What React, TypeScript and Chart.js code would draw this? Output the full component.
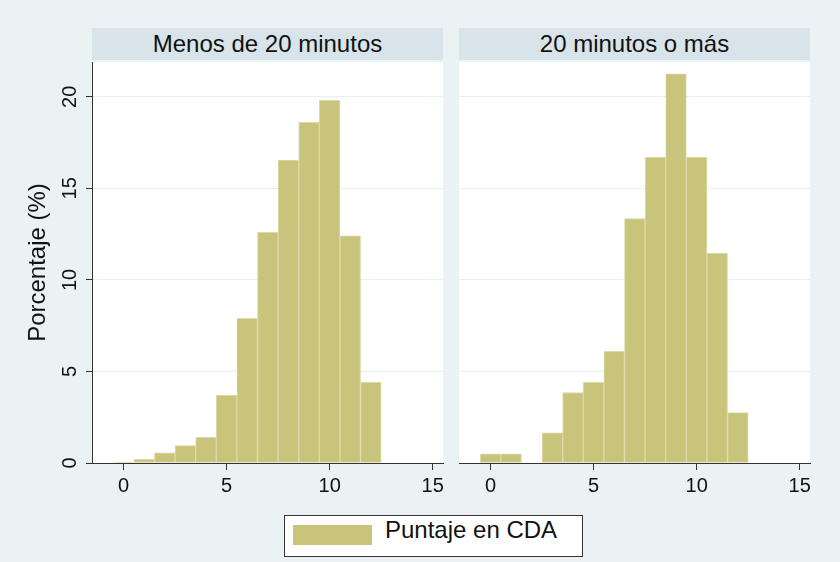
import React, { useEffect, useRef } from "react";
import { Chart, registerables } from "chart.js";

Chart.register(...registerables);

// ---- data ----
const panelTitles = ["Menos de 20 minutos", "20 minutos o más"];
const seriesLabel = "Puntaje en CDA";
const yAxisTitle = "Porcentaje (%)";

const leftBins = [0, 1, 2, 3, 4, 5, 6, 7, 8, 9, 10, 11, 12];
const leftValues = [0.05, 0.2, 0.55, 0.95, 1.4, 3.7, 7.9, 12.6, 16.55, 18.6, 19.8, 12.4, 4.4];

const rightBins = [0, 1, 3, 4, 5, 6, 7, 8, 9, 10, 11, 12];
const rightValues = [0.5, 0.5, 1.65, 3.85, 4.4, 6.1, 13.35, 16.7, 21.25, 16.7, 11.45, 2.75];

const xTicks = [0, 5, 10, 15];
const yTicks = [0, 5, 10, 15, 20];

// ---- styles ----
const FONT = '"Liberation Sans", Arial, Helvetica, sans-serif';
const BAR = "#c9c47b";
const BAR_EDGE = "#dedaa8";
const AXIS = "#333333";
const GRID = "#e8eff1";
const BG = "#eaf2f3";
const STRIP = "#d8e4e9";
const TEXT = "#111111";

const whiteArea = {
  id: "whiteArea",
  beforeDraw(chart: any) {
    const { ctx, chartArea: a } = chart;
    ctx.save();
    ctx.fillStyle = "#ffffff";
    ctx.fillRect(a.left, a.top, a.right - a.left, a.bottom - a.top);
    ctx.restore();
  },
};

function makeConfig(bins: number[], values: number[], showY: boolean): any {
  return {
    type: "bar",
    data: {
      datasets: [
        {
          label: seriesLabel,
          data: bins.map((b, i) => ({ x: b, y: values[i] })),
          backgroundColor: BAR,
          borderColor: BAR_EDGE,
          borderWidth: 1,
          barPercentage: 1,
          categoryPercentage: 1,
        },
      ],
    },
    options: {
      responsive: false,
      animation: false,
      devicePixelRatio: 1,
      layout: {
        padding: showY
          ? { top: 62, right: 7, left: 0, bottom: 0 }
          : { top: 62, right: 10, left: 9, bottom: 0 },
      },
      plugins: {
        legend: { display: false },
        tooltip: { enabled: false },
        title: { display: false },
      },
      scales: {
        x: {
          type: "linear",
          min: -1.53,
          max: 15.5,
          offset: false,
          afterBuildTicks: (s: any) => {
            s.ticks = xTicks.map((v) => ({ value: v }));
          },
          afterFit: (s: any) => {
            s.height = 37;
          },
          grid: {
            offset: false,
            drawOnChartArea: false,
            drawTicks: true,
            tickLength: 7,
            tickColor: AXIS,
          },
          border: { display: true, color: AXIS, width: 1 },
          ticks: {
            font: { size: 20, family: FONT },
            color: TEXT,
            padding: 4,
            maxRotation: 0,
            autoSkip: false,
          },
        },
        y: {
          type: "linear",
          min: 0,
          max: 21.9,
          afterBuildTicks: (s: any) => {
            s.ticks = yTicks.map((v) => ({ value: v }));
          },
          afterFit: (s: any) => {
            s.width = showY ? 92 : 0;
          },
          grid: {
            color: (c: any) =>
              c.tick && c.tick.value === 0 ? "rgba(0,0,0,0)" : GRID,
            drawTicks: showY,
            tickLength: 6,
            tickColor: AXIS,
          },
          border: { display: showY, color: AXIS, width: 1 },
          ticks: {
            display: showY,
            font: { size: 20, family: FONT },
            color: TEXT,
            minRotation: 90,
            maxRotation: 90,
            crossAlign: "center",
            padding: 4,
            autoSkip: false,
          },
          title: {
            display: showY,
            text: yAxisTitle,
            font: { size: 24, family: FONT },
            color: TEXT,
            padding: { top: 24, bottom: 0 },
          },
        },
      },
    },
    plugins: [whiteArea],
  };
}

export default function App() {
  const leftRef = useRef<HTMLCanvasElement | null>(null);
  const rightRef = useRef<HTMLCanvasElement | null>(null);

  useEffect(() => {
    const charts: Chart[] = [];
    if (leftRef.current) {
      charts.push(new Chart(leftRef.current, makeConfig(leftBins, leftValues, true)));
    }
    if (rightRef.current) {
      charts.push(new Chart(rightRef.current, makeConfig(rightBins, rightValues, false)));
    }
    return () => charts.forEach((c) => c.destroy());
  }, []);

  const strip = (left: number, width: number, text: string) => (
    <div
      style={{
        position: "absolute",
        left,
        top: 28,
        width,
        height: 32,
        background: STRIP,
        color: TEXT,
        font: `24px ${FONT}`,
        lineHeight: "32px",
        textAlign: "center",
        whiteSpace: "nowrap",
      }}
    >
      {text}
    </div>
  );

  return (
    <div
      style={{
        position: "fixed",
        left: 0,
        top: 0,
        width: 840,
        height: 562,
        background: BG,
        overflow: "hidden",
        fontFamily: FONT,
      }}
    >
      {strip(92, 351, panelTitles[0])}
      {strip(459, 351, panelTitles[1])}
      <canvas
        ref={leftRef}
        width={450}
        height={500}
        style={{ position: "absolute", left: 0, top: 0, width: 450, height: 500 }}
      />
      <canvas
        ref={rightRef}
        width={370}
        height={500}
        style={{ position: "absolute", left: 450, top: 0, width: 370, height: 500 }}
      />
      <div
        style={{
          position: "absolute",
          left: 284,
          top: 515,
          width: 299,
          height: 42,
          boxSizing: "border-box",
          border: `1px solid ${AXIS}`,
          background: "#ffffff",
        }}
      >
        <div
          style={{
            position: "absolute",
            left: 8,
            top: 9,
            width: 79,
            height: 20,
            background: BAR,
          }}
        />
        <div
          style={{
            position: "absolute",
            left: 100,
            top: 0,
            height: 40,
            lineHeight: "40px",
            font: `24px ${FONT}`,
            color: TEXT,
            whiteSpace: "nowrap",
          }}
        >
          {seriesLabel}
        </div>
      </div>
    </div>
  );
}
